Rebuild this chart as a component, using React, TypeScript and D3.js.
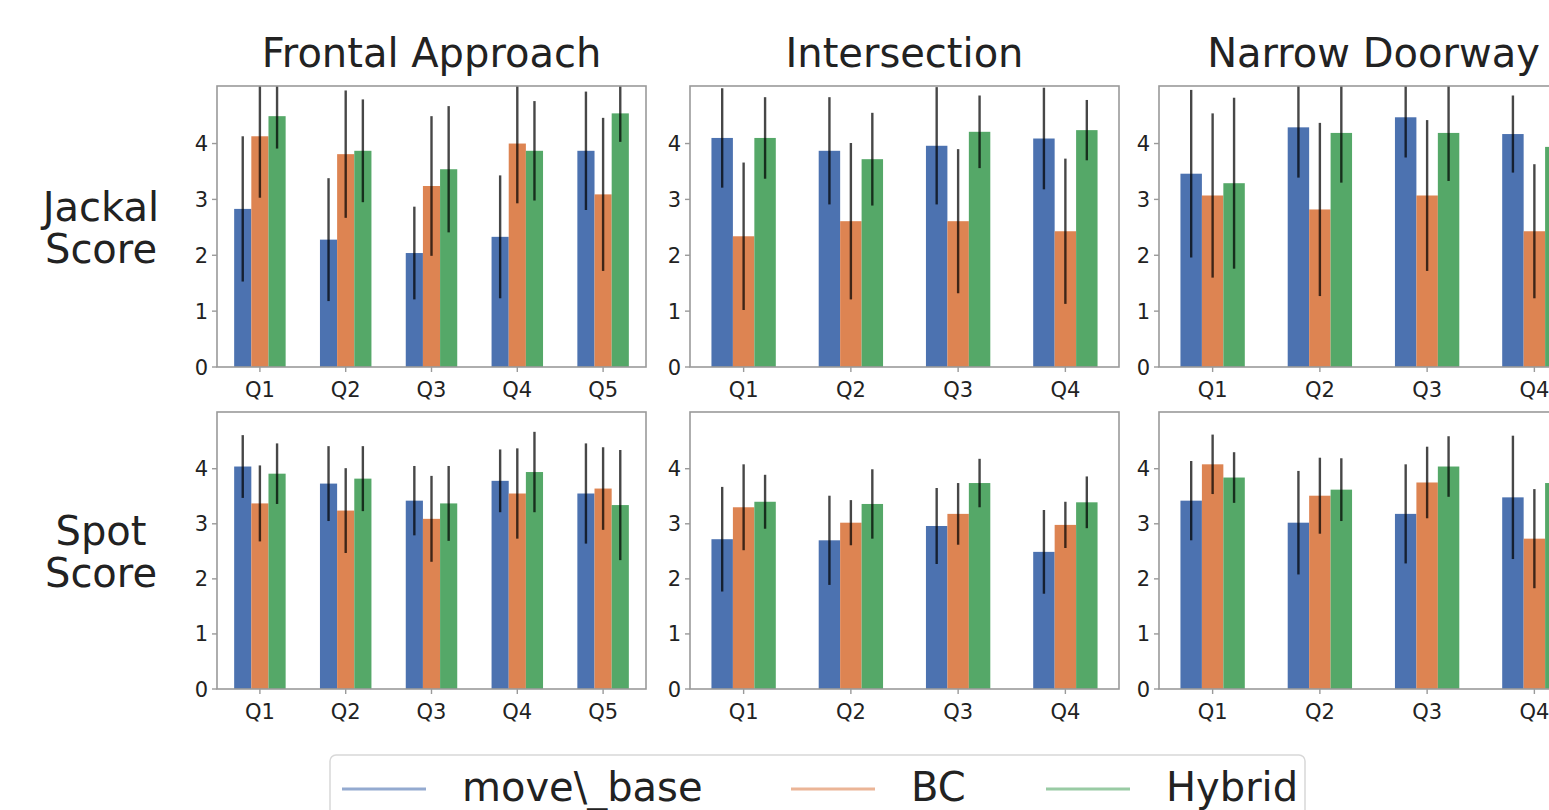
import * as d3 from "d3";

const methods = ["move\\_base", "BC", "Hybrid"];
const colors = ["#4C72B0", "#DD8452", "#55A868"];
const scenarios = ["Frontal Approach", "Intersection", "Narrow Doorway"];
const robots = [["Jackal", "Score"], ["Spot", "Score"]];
const frontalQuestions = ["Q1", "Q2", "Q3", "Q4", "Q5"];
const otherQuestions = ["Q1", "Q2", "Q3", "Q4"];
const yTicks = [0, 1, 2, 3, 4];

// rows = move_base, BC, Hybrid
const jackalFrontalMean = [
  [2.83, 2.28, 2.04, 2.33, 3.87],
  [4.13, 3.81, 3.24, 4.0, 3.09],
  [4.49, 3.87, 3.54, 3.87, 4.54],
];
const jackalFrontalStd = [
  [1.3, 1.1, 0.83, 1.1, 1.06],
  [1.1, 1.14, 1.25, 1.07, 1.37],
  [0.58, 0.92, 1.13, 0.89, 0.51],
];
const jackalInterMean = [
  [4.1, 3.87, 3.96, 4.09],
  [2.34, 2.61, 2.61, 2.43],
  [4.1, 3.72, 4.21, 4.24],
];
const jackalInterStd = [
  [0.89, 0.96, 1.05, 0.91],
  [1.32, 1.4, 1.29, 1.3],
  [0.73, 0.83, 0.65, 0.54],
];
const jackalDoorMean = [
  [3.46, 4.29, 4.47, 4.17],
  [3.07, 2.82, 3.07, 2.43],
  [3.29, 4.19, 4.19, 3.94],
];
const jackalDoorStd = [
  [1.5, 0.9, 0.72, 0.69],
  [1.47, 1.55, 1.35, 1.2],
  [1.53, 0.89, 0.86, 0.9],
];
const spotFrontalMean = [
  [4.04, 3.73, 3.42, 3.78, 3.55],
  [3.37, 3.24, 3.09, 3.55, 3.64],
  [3.91, 3.82, 3.37, 3.94, 3.34],
];
const spotFrontalStd = [
  [0.57, 0.68, 0.63, 0.57, 0.91],
  [0.69, 0.77, 0.78, 0.82, 0.75],
  [0.55, 0.59, 0.68, 0.73, 1.0],
];
const spotInterMean = [
  [2.72, 2.7, 2.96, 2.49],
  [3.3, 3.02, 3.18, 2.98],
  [3.4, 3.36, 3.74, 3.39],
];
const spotInterStd = [
  [0.95, 0.81, 0.69, 0.76],
  [0.78, 0.41, 0.56, 0.42],
  [0.49, 0.63, 0.44, 0.47],
];
const spotDoorMean = [
  [3.42, 3.02, 3.18, 3.48],
  [4.08, 3.51, 3.75, 2.73],
  [3.84, 3.62, 4.04, 3.74],
];
const spotDoorStd = [
  [0.72, 0.94, 0.9, 1.12],
  [0.54, 0.69, 0.65, 0.9],
  [0.46, 0.57, 0.55, 0.6],
];

const panels = [
  [
    { q: frontalQuestions, mean: jackalFrontalMean, std: jackalFrontalStd },
    { q: otherQuestions, mean: jackalInterMean, std: jackalInterStd },
    { q: otherQuestions, mean: jackalDoorMean, std: jackalDoorStd },
  ],
  [
    { q: frontalQuestions, mean: spotFrontalMean, std: spotFrontalStd },
    { q: otherQuestions, mean: spotInterMean, std: spotInterStd },
    { q: otherQuestions, mean: spotDoorMean, std: spotDoorStd },
  ],
];

const W = 1549;
const H = 810;
const colX = [217, 690, 1159];
const axW = 429;
const rowTop = [86, 412];
const rowBottom = [367, 689];
const yMax = 5.03;
const font = "'DejaVu Sans', sans-serif";
const textColor = "#222";
const spine = "#9a9a9a";

function Panel({ r, c }) {
  const p = panels[r][c];
  const x0 = colX[c];
  const top = rowTop[r];
  const bottom = rowBottom[r];
  const x = d3.scaleBand().domain(p.q).range([x0, x0 + axW]).paddingInner(0.4).paddingOuter(0.2);
  const inner = d3.scaleBand().domain(d3.range(3)).range([0, x.bandwidth()]);
  const y = d3.scaleLinear().domain([0, yMax]).range([bottom, top]);
  const clipId = `clip-${r}-${c}`;

  return (
    <g>
      <clipPath id={clipId}>
        <rect x={x0} y={top} width={axW} height={bottom - top} />
      </clipPath>
      <g clipPath={`url(#${clipId})`}>
        {p.mean.map((vals, m) =>
          vals.map((v, i) => (
            <rect
              key={`b${m}-${i}`}
              x={x(p.q[i]) + inner(m)}
              y={y(v)}
              width={inner.bandwidth()}
              height={y(0) - y(v)}
              fill={colors[m]}
            />
          ))
        )}
        {p.mean.map((vals, m) =>
          vals.map((v, i) => {
            const cx = x(p.q[i]) + inner(m) + inner.bandwidth() / 2;
            const s = p.std[m][i];
            return (
              <line
                key={`e${m}-${i}`}
                x1={cx}
                x2={cx}
                y1={y(v - s)}
                y2={y(v + s)}
                stroke="#000"
                strokeOpacity={0.72}
                strokeWidth={2.4}
              />
            );
          })
        )}
      </g>
      <rect x={x0} y={top} width={axW} height={bottom - top} fill="none" stroke={spine} strokeWidth={1.6} />
      {yTicks.map((t) => (
        <g key={`yt${t}`}>
          <line x1={x0 - 5} x2={x0} y1={y(t)} y2={y(t)} stroke={spine} strokeWidth={1.4} />
          <text
            x={x0 - 9}
            y={y(t)}
            dy="0.36em"
            textAnchor="end"
            fontSize={21}
            fontFamily={font}
            fill={textColor}
          >
            {t}
          </text>
        </g>
      ))}
      {p.q.map((q) => {
        const cx = x(q) + x.bandwidth() / 2;
        return (
          <g key={`xt${q}`}>
            <line x1={cx} x2={cx} y1={bottom} y2={bottom + 5} stroke={spine} strokeWidth={1.4} />
            <text
              x={cx}
              y={bottom + 30}
              textAnchor="middle"
              fontSize={21}
              fontFamily={font}
              fill={textColor}
            >
              {q}
            </text>
          </g>
        );
      })}
    </g>
  );
}

export default function App() {
  const legendX = [342, 791, 1046];
  return (
    <svg
      width={W}
      height={H}
      style={{ position: "absolute", left: 0, top: 0, background: "#fff" }}
    >
      <rect x={0} y={0} width={W} height={H} fill="#fff" />
      {scenarios.map((s, c) => (
        <text
          key={s}
          x={colX[c] + axW / 2}
          y={67}
          textAnchor="middle"
          fontSize={40}
          fontFamily={font}
          fill={textColor}
        >
          {s}
        </text>
      ))}
      {robots.map((lines, r) => {
        const mid = (rowTop[r] + rowBottom[r]) / 2;
        return (
          <text key={r} textAnchor="middle" fontSize={40} fontFamily={font} fill={textColor}>
            {lines.map((l, k) => (
              <tspan key={k} x={101} y={mid - 6 + k * 42}>
                {l}
              </tspan>
            ))}
          </text>
        );
      })}
      {[0, 1].map((r) => [0, 1, 2].map((c) => <Panel key={`${r}-${c}`} r={r} c={c} />))}
      <rect x={330} y={755} width={975} height={80} rx={6} fill="#fff" stroke="#d8d8d8" strokeWidth={1.5} />
      {methods.map((m, i) => (
        <g key={m}>
          <line
            x1={legendX[i]}
            x2={legendX[i] + 84}
            y1={789}
            y2={789}
            stroke={colors[i]}
            strokeOpacity={0.6}
            strokeWidth={3}
          />
          <text x={legendX[i] + 120} y={801} fontSize={40} fontFamily={font} fill={textColor}>
            {m}
          </text>
        </g>
      ))}
    </svg>
  );
}
